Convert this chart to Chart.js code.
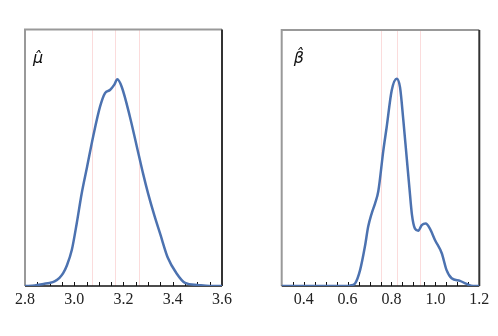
<!DOCTYPE html>
<html>
<head>
<meta charset="utf-8">
<script src="https://cdn.jsdelivr.net/npm/chart.js@4"></script>
<style>
  html, body { margin: 0; padding: 0; background: #fff; }
  #wrap { position: relative; width: 498px; height: 336px; }
  canvas { position: absolute; top: 0; }
  #c-mu { left: 0; }
  #c-beta { left: 250px; }
</style>
</head>
<body>
<div id="wrap">
  <canvas id="c-mu" width="250" height="336"></canvas>
  <canvas id="c-beta" width="248" height="336"></canvas>
</div>
<script>
// posterior density of mu-hat
const muX = [2.80, 2.84, 2.875, 2.90, 2.92, 2.94, 2.955, 2.97, 2.99, 3.01, 3.03, 3.052, 3.077, 3.105, 3.125, 3.145, 3.162, 3.175, 3.193, 3.226, 3.254, 3.28, 3.30, 3.325, 3.35, 3.38, 3.415, 3.45, 3.50, 3.55, 3.60];
const muY = [0, 0.01, 0.04, 0.06, 0.09, 0.16, 0.25, 0.40, 0.70, 1.22, 1.80, 2.32, 2.92, 3.50, 3.76, 3.82, 3.92, 4.03, 3.88, 3.30, 2.72, 2.18, 1.80, 1.38, 1.00, 0.55, 0.25, 0.06, 0.02, 0, 0];
const muQuantiles = [3.073, 3.167, 3.263];
const muRange = [2.8, 3.6];
const muTicks = [2.8, 3.0, 3.2, 3.4, 3.6];

// posterior density of beta-hat
const betaX = [0.30, 0.60, 0.612, 0.634, 0.657, 0.679, 0.694, 0.710, 0.725, 0.740, 0.763, 0.778, 0.801, 0.824, 0.839, 0.854, 0.869, 0.882, 0.893, 0.907, 0.922, 0.938, 0.956, 0.975, 0.998, 1.029, 1.051, 1.074, 1.112, 1.142, 1.172, 1.20];
const betaY = [0, 0, 0.01, 0.05, 0.31, 0.77, 1.16, 1.42, 1.61, 1.85, 2.65, 3.10, 3.82, 4.05, 3.88, 3.24, 2.52, 1.90, 1.40, 1.12, 1.08, 1.19, 1.22, 1.12, 0.90, 0.64, 0.31, 0.15, 0.10, 0.04, 0, 0];
const betaQuantiles = [0.753, 0.826, 0.931];
const betaRange = [0.3, 1.2];
const betaTicks = [0.4, 0.6, 0.8, 1.0, 1.2];

const minorStep = 0.05;

// frame, minor ticks, quantile lines and the parameter label
const panelDecor = {
    id: 'panelDecor',
    beforeDatasetsDraw(chart, args, opts) {
        const ctx = chart.ctx;
        const a = chart.chartArea;
        const x = chart.scales.x;
        ctx.save();
        ctx.strokeStyle = '#fbdcdc';
        ctx.lineWidth = 1;
        opts.quantiles.forEach(q => {
            const px = Math.round(x.getPixelForValue(q)) + 0.5;
            ctx.beginPath();
            ctx.moveTo(px, a.top);
            ctx.lineTo(px, a.bottom);
            ctx.stroke();
        });

        ctx.lineWidth = 2;
        ctx.strokeStyle = '#999';
        ctx.beginPath();
        ctx.moveTo(a.left, a.bottom);
        ctx.lineTo(a.left, a.top);
        ctx.lineTo(a.right, a.top);
        ctx.stroke();
        ctx.strokeStyle = '#333';
        ctx.beginPath();
        ctx.moveTo(a.right, a.top);
        ctx.lineTo(a.right, a.bottom);
        ctx.stroke();
        ctx.strokeStyle = '#111';
        ctx.lineWidth = 1.5;
        ctx.beginPath();
        ctx.moveTo(a.left, a.bottom);
        ctx.lineTo(a.right, a.bottom);
        ctx.stroke();

        ctx.lineWidth = 1;
        const n = Math.round((x.max - x.min) / minorStep);
        for (let i = 1; i < n; i++) {
            const px = Math.round(x.getPixelForValue(x.min + i * minorStep)) + 0.5;
            ctx.beginPath();
            ctx.moveTo(px, a.bottom);
            ctx.lineTo(px, a.bottom - 4);
            ctx.stroke();
        }
        ctx.restore();
    },
    afterDraw(chart, args, opts) {
        const ctx = chart.ctx;
        const a = chart.chartArea;
        ctx.save();
        ctx.fillStyle = '#111';
        ctx.font = 'italic 16px "DejaVu Sans"';
        ctx.textBaseline = 'alphabetic';
        ctx.fillText(opts.label, a.left + opts.labelDx, a.top + 33);
        ctx.restore();
    }
};

function makePanel(id, xs, ys, range, ticks, quantiles, label, labelDx, pad) {
    const pts = xs.map((v, i) => ({ x: v, y: ys[i] }));
    return new Chart(document.getElementById(id), {
        type: 'line',
        data: {
            datasets: [{
                data: pts,
                borderColor: '#4c72b0',
                borderWidth: 2.5,
                pointRadius: 0,
                fill: false,
                cubicInterpolationMode: 'monotone'
            }]
        },
        options: {
            responsive: false,
            animation: false,
            devicePixelRatio: 1,
            layout: { padding: pad },
            plugins: {
                legend: { display: false },
                tooltip: { enabled: false },
                panelDecor: { quantiles: quantiles, label: label, labelDx: labelDx }
            },
            scales: {
                x: {
                    type: 'linear',
                    min: range[0],
                    max: range[1],
                    afterBuildTicks: axis => { axis.ticks = ticks.map(v => ({ value: v })); },
                    grid: { display: false, drawTicks: false },
                    border: { display: false },
                    ticks: {
                        padding: 4.5,
                        color: '#222',
                        font: { family: '"Liberation Serif"', size: 16 },
                        maxRotation: 0,
                        autoSkip: false,
                        callback: v => v.toFixed(1)
                    }
                },
                y: {
                    display: false,
                    min: 0,
                    max: 5
                }
            }
        },
        plugins: [panelDecor]
    });
}

makePanel('c-mu', muX, muY, muRange, muTicks, muQuantiles, 'μ̂', 8,
    { left: 25, right: 28, top: 29.5, bottom: 21.8 });
makePanel('c-beta', betaX, betaY, betaRange, betaTicks, betaQuantiles, 'β̂', 12,
    { left: 31.7, right: 18.7, top: 30, bottom: 21.8 });
</script>
</body>
</html>
